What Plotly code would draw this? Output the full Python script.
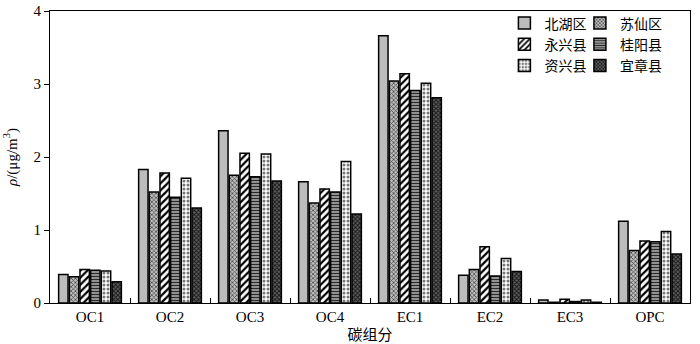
import plotly.graph_objects as go

# Carbon fractions (x categories)
categories = ["OC1", "OC2", "OC3", "OC4", "EC1", "EC2", "EC3", "OPC"]

# Mass concentration (μg/m³) per district/county
beihu    = [0.39, 1.83, 2.36, 1.66, 3.66, 0.38, 0.04, 1.12]
suxian   = [0.36, 1.52, 1.75, 1.37, 3.04, 0.46, 0.01, 0.72]
yongxing = [0.46, 1.78, 2.05, 1.56, 3.14, 0.77, 0.05, 0.85]
guiyang  = [0.45, 1.45, 1.73, 1.52, 2.91, 0.37, 0.02, 0.84]
zixing   = [0.44, 1.71, 2.04, 1.94, 3.01, 0.61, 0.04, 0.98]
yizhang  = [0.29, 1.30, 1.67, 1.22, 2.81, 0.43, 0.01, 0.67]

series_names = ["北湖区", "苏仙区", "永兴县", "桂阳县", "资兴县", "宜章县"]
series_values = [beihu, suxian, yongxing, guiyang, zixing, yizhang]

# Fill styles: (background, pattern shape, pattern colour, size, solidity)
styles = [
    ("#bcbcbc", "", "#bcbcbc", 4, 0.3),
    ("#bdbdbd", "x", "#4a4a4a", 3, 0.45),
    ("#ffffff", "/", "#000000", 5, 0.45),
    ("#b4b4b4", "-", "#2a2a2a", 3, 0.5),
    ("#ffffff", ".", "#777777", 4, 0.45),
    ("#5e5e5e", "x", "#151515", 3, 0.5),
]

# two legend columns: left column (legend), right column (legend2)
legend_ids = ["legend", "legend2", "legend", "legend2", "legend", "legend2"]

fig = go.Figure()
for name, vals, (bg, shape, fg, size, sol), lg in zip(series_names, series_values, styles, legend_ids):
    fig.add_trace(go.Bar(
        x=categories, y=vals, name=name, legend=lg,
        marker=dict(
            color=bg,
            line=dict(color="#000000", width=1.5),
            pattern=dict(shape=shape, fgcolor=fg, bgcolor=bg, size=size,
                         solidity=sol, fillmode="replace"),
        ),
    ))

serif = "Liberation Serif"
cjk = "Noto Sans CJK SC"

legend_common = dict(
    orientation="v", xanchor="left", yanchor="top",
    bgcolor="rgba(0,0,0,0)", borderwidth=0,
    font=dict(family=cjk, size=14, color="#000"),
    tracegroupgap=0, itemwidth=30, traceorder="normal",
)

fig.update_layout(
    width=700, height=344,
    margin=dict(l=50, r=10, t=8, b=41),
    paper_bgcolor="white", plot_bgcolor="white",
    barmode="group", bargap=0.2, bargroupgap=0.12,
    showlegend=True,
    legend=dict(x=0.71, y=1.012, **legend_common),
    legend2=dict(x=0.828, y=1.012, **legend_common),
    font=dict(family=serif, size=14, color="#000"),
)

fig.update_xaxes(
    type="category", automargin=False,
    showline=True, linecolor="#000", linewidth=1, mirror=True,
    ticks="inside", ticklen=5, tickcolor="#000", tickson="boundaries",
    tickfont=dict(family=serif, size=15, color="#000"),
    title=dict(text="碳组分", font=dict(family=cjk, size=15, color="#000"), standoff=8),
    showgrid=False,
)
fig.update_yaxes(
    range=[0, 4], dtick=1, automargin=False,
    showline=True, linecolor="#000", linewidth=1, mirror=True,
    ticks="outside", ticklen=5, tickcolor="#000",
    tickfont=dict(family=serif, size=15, color="#000"),
    title=dict(text="<i>ρ</i>/(μg/m<sup>3</sup>)", font=dict(family=serif, size=15, color="#000"), standoff=12),
    showgrid=False, zeroline=False,
)

fig.write_html("out.html")
